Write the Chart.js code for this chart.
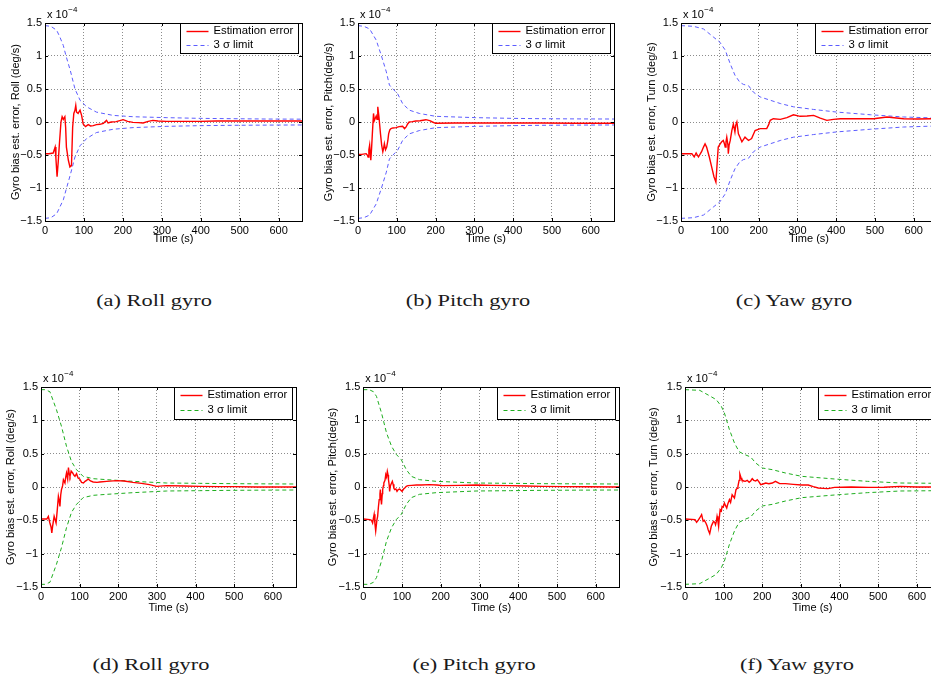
<!DOCTYPE html>
<html>
<head>
<meta charset="utf-8">
<script src="https://cdn.jsdelivr.net/npm/chart.js@4.4.1/dist/chart.umd.min.js"></script>
<style>
body { margin: 0; width: 931px; height: 681px; overflow: hidden; background: #fff; position: relative; }
canvas { position: absolute; }
.cap { position: absolute; font-family: "Liberation Serif", "DejaVu Serif", serif; font-size: 17.5px; white-space: nowrap; transform: translate(-50%, -50%) scaleX(1.28); color: #1a1a1a; }
</style>
</head>
<body>
<canvas id="ca" width="310" height="250" style="left:0;top:0"></canvas>
<canvas id="cb" width="310" height="250" style="left:310px;top:0"></canvas>
<canvas id="cc" width="330" height="250" style="left:620px;top:0"></canvas>
<canvas id="cd" width="310" height="260" style="left:0;top:360px"></canvas>
<canvas id="ce" width="310" height="260" style="left:310px;top:360px"></canvas>
<canvas id="cf" width="330" height="260" style="left:620px;top:360px"></canvas>

<div class="cap" style="left:154px;top:300px">(a) Roll gyro</div>
<div class="cap" style="left:468px;top:300px">(b) Pitch gyro</div>
<div class="cap" style="left:794px;top:300px">(c) Yaw gyro</div>
<div class="cap" style="left:151px;top:664px">(d) Roll gyro</div>
<div class="cap" style="left:474px;top:664px">(e) Pitch gyro</div>
<div class="cap" style="left:797px;top:664px">(f) Yaw gyro</div>

<script>
// all values in units of 1e-4 deg/s, time in s
var yTicks = [-1.5, -1, -0.5, 0, 0.5, 1, 1.5];
var xTicks = [0, 100, 200, 300, 400, 500, 600];

// (a) roll, first run
var aErrT = [0,10,21,26,28,31,34,37,41,44,47,51,53,55,60,64,68,71,74,77,79,81,85,90,94,98,104,111,117,124,132,141,150,158,162,170,183,192,201,212,226,240,252,265,277,290,311,350,397,440,482,525,568,610,657,660];
var aErrV = [-0.48,-0.48,-0.47,-0.38,-0.55,-0.83,-0.6,-0.33,0,0.08,0.04,0.08,-0.08,-0.38,-0.58,-0.68,-0.66,-0.08,0.13,0.18,0.25,0.15,0.13,0.18,0.1,-0.03,-0.07,-0.04,-0.06,-0.055,-0.04,-0.035,-0.02,0.025,-0.015,0,0.005,0.02,0.035,0.01,-0.005,-0.01,-0.015,0.01,0.025,0.015,0.01,0.01,0.01,0.015,0.015,0.015,0.015,0.015,0.015,0.015];
var aSigT = [0,15,30,38,47,54,65,77,90,107,132,175,226,311,400,482,570,660];
var aSigUp = [1.46,1.45,1.39,1.29,1.16,1.0,0.78,0.5,0.33,0.23,0.15,0.1,0.08,0.066,0.055,0.05,0.045,0.043];
var aSigLo = [-1.46,-1.45,-1.39,-1.29,-1.18,-1.03,-0.8,-0.53,-0.36,-0.25,-0.16,-0.11,-0.085,-0.066,-0.055,-0.05,-0.047,-0.045];

// (b) pitch, first run
var bErrT = [0,10,21,24,26,28,30,33,35,37,40,42,44,47,49,51,54,56,58,61,64,66,68,71,74,77,79,82,85,90,98,106,115,120,124,128,132,140,149,160,175,185,192,200,250,303,400,474,560,655,660];
var bErrV = [-0.49,-0.49,-0.48,-0.5,-0.53,-0.42,-0.35,-0.58,-0.4,-0.18,0.13,0.02,0.05,0.09,0.04,0.23,0.08,-0.05,-0.18,-0.35,-0.45,-0.4,-0.33,-0.42,-0.38,-0.28,-0.18,-0.12,-0.1,-0.09,-0.085,-0.07,-0.065,-0.1,-0.075,-0.03,0,0.005,0.015,0.02,0.035,0.02,0,-0.02,-0.015,-0.015,-0.015,-0.015,-0.018,-0.02,-0.02];
var bSigT = [0,15,30,47,60,73,81,90,102,115,132,158,200,303,400,474,560,660];
var bSigUp = [1.46,1.45,1.41,1.24,1.01,0.76,0.56,0.5,0.43,0.28,0.18,0.13,0.086,0.066,0.055,0.05,0.047,0.045];
var bSigLo = [-1.46,-1.45,-1.41,-1.24,-1.01,-0.76,-0.56,-0.5,-0.43,-0.28,-0.18,-0.13,-0.086,-0.066,-0.055,-0.05,-0.047,-0.045];

// (c) yaw, first run
var cErrT = [0,20,28,34,39,45,53,58,62,66,73,79,85,90,92,96,101,105,109,112,114,116,118,121,122,124,127,131,135,139,141,144,148,152,157,165,174,182,191,204,221,226,230,238,256,273,290,307,325,342,359,376,393,411,445,497,531,574,610,647,660];
var cErrV = [-0.48,-0.48,-0.48,-0.53,-0.47,-0.53,-0.45,-0.38,-0.33,-0.38,-0.53,-0.68,-0.83,-0.91,-0.73,-0.38,-0.33,-0.3,-0.28,-0.33,-0.38,-0.3,-0.23,-0.35,-0.48,-0.35,-0.28,-0.13,-0.03,-0.15,-0.05,0,-0.18,-0.23,-0.3,-0.23,-0.28,-0.25,-0.13,-0.1,-0.1,-0.04,0.025,0.05,0.04,0.066,0.11,0.086,0.09,0.1,0.06,0.025,0.04,0.05,0.05,0.05,0.076,0.05,0.045,0.05,0.05];
var cSigT = [0,32,58,83,100,114,127,139,152,161,174,187,204,230,256,290,342,402,488,574,660];
var cSigUp = [1.46,1.45,1.41,1.29,1.21,1.09,0.88,0.71,0.6,0.57,0.55,0.45,0.38,0.33,0.28,0.23,0.19,0.15,0.11,0.076,0.06];
var cSigLo = [-1.46,-1.45,-1.41,-1.29,-1.21,-1.09,-0.88,-0.71,-0.6,-0.57,-0.55,-0.45,-0.38,-0.33,-0.28,-0.23,-0.19,-0.15,-0.11,-0.076,-0.06];

// (d) roll, second run
var dErrT = [0,15,19,23,26,28,30,34,39,42,45,47,49,51,53,56,58,62,64,66,69,71,73,75,78,82,85,88,92,96,100,105,110,114,118,122,128,135,145,152,170,195,215,238,260,281,299,325,370,411,460,497,560,659,660];
var dErrV = [-0.48,-0.48,-0.44,-0.54,-0.6,-0.69,-0.59,-0.44,-0.54,-0.35,-0.14,-0.2,-0.29,-0.12,-0.04,0.02,0.11,0.06,0.15,0.21,0.12,0.29,0.2,0.16,0.24,0.21,0.18,0.16,0.2,0.135,0.12,0.07,0.06,0.085,0.1,0.12,0.09,0.075,0.07,0.075,0.085,0.095,0.09,0.07,0.055,0.035,0.01,0.02,0.015,0.01,0.005,0.005,0,0,0];
var dSigT = [0,10,23,40,53,66,79,92,109,135,170,238,325,410,497,580,660];
var dSigUp = [1.46,1.46,1.43,1.16,0.91,0.61,0.38,0.26,0.16,0.125,0.11,0.085,0.06,0.055,0.05,0.047,0.045];
var dSigLo = [-1.46,-1.46,-1.43,-1.16,-0.91,-0.61,-0.38,-0.26,-0.16,-0.125,-0.11,-0.085,-0.06,-0.055,-0.05,-0.047,-0.045];

// (e) pitch, second run
var eErrT = [0,17,21,24,26,28,30,32,35,37,39,41,43,44,46,47,49,50,52,53,56,58,60,62,64,65,67,68,70,73,75,77,79,81,84,87,90,94,97,100,104,107,111,115,125,137,150,171,190,205,250,291,330,376,420,462,520,580,654,660];
var eErrV = [-0.48,-0.49,-0.5,-0.54,-0.47,-0.41,-0.55,-0.66,-0.5,-0.44,-0.3,-0.19,-0.1,-0.04,-0.2,-0.26,-0.1,-0.04,0.02,0.06,0.1,0.185,0.15,0.235,0.18,0.11,0.02,-0.065,0.02,0.06,0.085,0.04,-0.02,-0.04,-0.03,-0.065,-0.04,-0.03,-0.05,-0.065,-0.03,-0.015,0.01,0.02,0.025,0.03,0.03,0.035,0.03,0.02,0.025,0.03,0.025,0.02,0.015,0.01,0.005,0.003,0,0];
var eSigT = [0,15,26,34,47,60,73,85,98,111,124,145,188,291,380,462,560,660];
var eSigUp = [1.46,1.46,1.43,1.36,1.11,0.81,0.61,0.49,0.41,0.26,0.16,0.11,0.085,0.06,0.055,0.05,0.047,0.045];
var eSigLo = [-1.46,-1.46,-1.43,-1.36,-1.11,-0.81,-0.61,-0.49,-0.41,-0.26,-0.16,-0.11,-0.085,-0.06,-0.055,-0.05,-0.047,-0.045];

// (f) yaw, second run
var fErrT = [0,26,30,34,38,43,47,50,54,57,60,64,68,71,74,77,79,81,83,85,87,89,91,94,96,99,102,105,108,111,115,118,122,125,128,130,132,135,137,140,142,145,147,152,156,161,166,170,174,178,183,187,191,196,202,209,217,226,234,245,260,280,302,319,332,345,358,370,387,430,475,515,557,600,630,660];
var fErrV = [-0.48,-0.49,-0.53,-0.5,-0.465,-0.415,-0.515,-0.5,-0.54,-0.58,-0.64,-0.7,-0.59,-0.55,-0.515,-0.53,-0.565,-0.52,-0.44,-0.5,-0.59,-0.45,-0.34,-0.36,-0.29,-0.3,-0.24,-0.28,-0.315,-0.25,-0.19,-0.23,-0.115,-0.14,-0.165,-0.1,-0.04,-0.02,0.01,0.1,0.195,0.14,0.11,0.09,0.085,0.1,0.07,0.09,0.125,0.1,0.09,0.11,0.08,0.035,0.045,0.06,0.05,0.06,0.085,0.05,0.05,0.04,0.03,0.03,0.005,-0.015,-0.02,-0.025,-0.005,0,-0.005,-0.003,0.01,0,0,0];
var fSigT = [0,38,60,81,94,102,115,128,140,153,170,183,200,226,260,302,387,472,557,660];
var fSigUp = [1.46,1.45,1.38,1.31,1.21,1.11,0.86,0.66,0.53,0.49,0.45,0.36,0.285,0.26,0.21,0.16,0.12,0.085,0.06,0.055];
var fSigLo = [-1.46,-1.45,-1.38,-1.31,-1.21,-1.11,-0.86,-0.66,-0.53,-0.49,-0.45,-0.36,-0.285,-0.26,-0.21,-0.16,-0.12,-0.085,-0.06,-0.055];

var FONT = '"Liberation Sans", Arial, Helvetica, sans-serif';
var BLUE = '#5c5cff';
var GREEN = '#1fae1f';

function pairs(xs, ys) {
    return xs.map(function (x, i) { return { x: x, y: ys[i] }; });
}

function fmt(v) {
    return v < 0 ? '\u2212' + String(-v) : String(v);
}

// axes box, inward ticks, legend and the x10^-4 multiplier, matlab style
var framePlugin = {
    id: 'frame',
    afterDatasetsDraw: function (chart, args, opts) {
        var ctx = chart.ctx, a = chart.chartArea;
        var xs = chart.scales.x, ys = chart.scales.y;
        ctx.save();
        ctx.strokeStyle = '#000';
        ctx.lineWidth = 1;
        ctx.beginPath();
        xTicks.forEach(function (t) {
            var px = Math.round(xs.getPixelForValue(t)) + 0.5;
            ctx.moveTo(px, a.bottom); ctx.lineTo(px, a.bottom - 3);
            ctx.moveTo(px, a.top); ctx.lineTo(px, a.top + 3);
        });
        yTicks.forEach(function (v) {
            var py = Math.round(ys.getPixelForValue(v)) + 0.5;
            ctx.moveTo(a.left, py); ctx.lineTo(a.left + 3, py);
            ctx.moveTo(a.right, py); ctx.lineTo(a.right - 3, py);
        });
        ctx.stroke();
        ctx.strokeRect(Math.round(a.left) + 0.5, Math.round(a.top) + 0.5,
            Math.round(a.right - a.left), Math.round(a.bottom - a.top));

        // legend
        var w = 118, h = opts.legendH;
        var x0 = Math.round(a.right - 4 - w) + 0.5, y0 = Math.round(a.top) + 0.5;
        ctx.fillStyle = '#fff';
        ctx.fillRect(x0, y0, w, h);
        ctx.strokeRect(x0, y0, w, h);
        var ds = chart.data.datasets;
        var rows = [y0 + h * 0.245, y0 + h * 0.70];
        ctx.font = '11.3px ' + FONT;
        ctx.textBaseline = 'middle';
        ctx.textAlign = 'left';
        [0, 1].forEach(function (i) {
            ctx.beginPath();
            ctx.strokeStyle = ds[i].borderColor;
            ctx.lineWidth = ds[i].borderWidth;
            ctx.setLineDash(ds[i].borderDash || []);
            ctx.moveTo(x0 + 6, Math.round(rows[i]) + 0.5);
            ctx.lineTo(x0 + 28, Math.round(rows[i]) + 0.5);
            ctx.stroke();
            ctx.setLineDash([]);
            ctx.fillStyle = '#000';
            ctx.fillText(ds[i].label, x0 + 33, rows[i]);
        });

        // exponent label
        ctx.font = '11px ' + FONT;
        ctx.fillStyle = '#000';
        ctx.fillText('x 10', a.left + 2, a.top - 8);
        var ew = ctx.measureText('x 10').width;
        ctx.font = '8px ' + FONT;
        ctx.fillText('\u22124', a.left + 2 + ew + 0.5, a.top - 13);
        ctx.restore();
    }
};

function makeChart(id, p) {
    var tickFont = { family: FONT, size: 11 };
    new Chart(document.getElementById(id), {
        type: 'line',
        data: {
            datasets: [{
                label: 'Estimation error',
                data: pairs(p.errT, p.errV),
                borderColor: '#ff0000',
                borderWidth: 1.4,
                pointRadius: 0,
                order: 0
            }, {
                label: '3 \u03c3 limit',
                data: pairs(p.sigT, p.sigUp),
                borderColor: p.sigColor,
                borderWidth: 1,
                borderDash: [4, 3],
                pointRadius: 0,
                order: 1
            }, {
                label: '3 \u03c3 limit',
                data: pairs(p.sigT, p.sigLo),
                borderColor: p.sigColor,
                borderWidth: 1,
                borderDash: [4, 3],
                pointRadius: 0,
                order: 1
            }]
        },
        options: {
            responsive: false,
            animation: false,
            events: [],
            layout: { padding: { left: p.padL, right: p.padR, top: p.padT, bottom: 0 } },
            plugins: {
                legend: { display: false },
                tooltip: { enabled: false },
                frame: { legendH: p.legendH }
            },
            scales: {
                x: {
                    type: 'linear',
                    min: 0,
                    max: 660,
                    afterFit: function (s) { s.height = p.xH; },
                    ticks: { stepSize: 100, includeBounds: false, padding: 3, color: '#000', font: tickFont, maxRotation: 0 },
                    grid: { color: 'rgba(0,0,0,0.45)', lineWidth: 1, drawTicks: false },
                    border: { display: false, dash: [1, 2] },
                    title: { display: true, text: 'Time (s)', color: '#000', font: tickFont, padding: { top: 0, bottom: p.xTitlePad } }
                },
                y: {
                    min: -1.5,
                    max: 1.5,
                    afterFit: function (s) { s.width = p.yW; },
                    ticks: { stepSize: 0.5, padding: 3, color: '#000', font: tickFont, callback: fmt },
                    grid: { color: 'rgba(0,0,0,0.45)', lineWidth: 1, drawTicks: false },
                    border: { display: false, dash: [1, 2] },
                    title: { display: true, text: p.yTitle, color: '#000', font: tickFont, padding: 0 }
                }
            }
        },
        plugins: [framePlugin]
    });
}

var top1 = { padT: 23, xH: 29, xTitlePad: 4.4, legendH: 30 };
var top2 = { padT: 27, xH: 33, xTitlePad: 5.7, legendH: 32 };

makeChart('ca', Object.assign({ errT: aErrT, errV: aErrV, sigT: aSigT, sigUp: aSigUp, sigLo: aSigLo, sigColor: BLUE,
    yTitle: 'Gyro bias est. error, Roll (deg/s)', padL: 9.4, yW: 35.6, padR: 8 }, top1));
makeChart('cb', Object.assign({ errT: bErrT, errV: bErrV, sigT: bSigT, sigUp: bSigUp, sigLo: bSigLo, sigColor: BLUE,
    yTitle: 'Gyro bias est. error, Pitch(deg/s)', padL: 12.4, yW: 35.6, padR: 6 }, top1));
makeChart('cc', Object.assign({ errT: cErrT, errV: cErrV, sigT: cSigT, sigUp: cSigUp, sigLo: cSigLo, sigColor: BLUE,
    yTitle: 'Gyro bias est. error, Turn (deg/s)', padL: 25, yW: 36, padR: 13 }, top1));
makeChart('cd', Object.assign({ errT: dErrT, errV: dErrV, sigT: dSigT, sigUp: dSigUp, sigLo: dSigLo, sigColor: GREEN,
    yTitle: 'Gyro bias est. error, Roll (deg/s)', padL: 4.4, yW: 36.6, padR: 14 }, top2));
makeChart('ce', Object.assign({ errT: eErrT, errV: eErrV, sigT: eSigT, sigUp: eSigUp, sigLo: eSigLo, sigColor: GREEN,
    yTitle: 'Gyro bias est. error, Pitch(deg/s)', padL: 16, yW: 37.3, padR: 1 }, top2));
makeChart('cf', Object.assign({ errT: fErrT, errV: fErrV, sigT: fSigT, sigUp: fSigUp, sigLo: fSigLo, sigColor: GREEN,
    yTitle: 'Gyro bias est. error, Turn (deg/s)', padL: 27.4, yW: 37.6, padR: 10 }, top2));
</script>
</body>
</html>
